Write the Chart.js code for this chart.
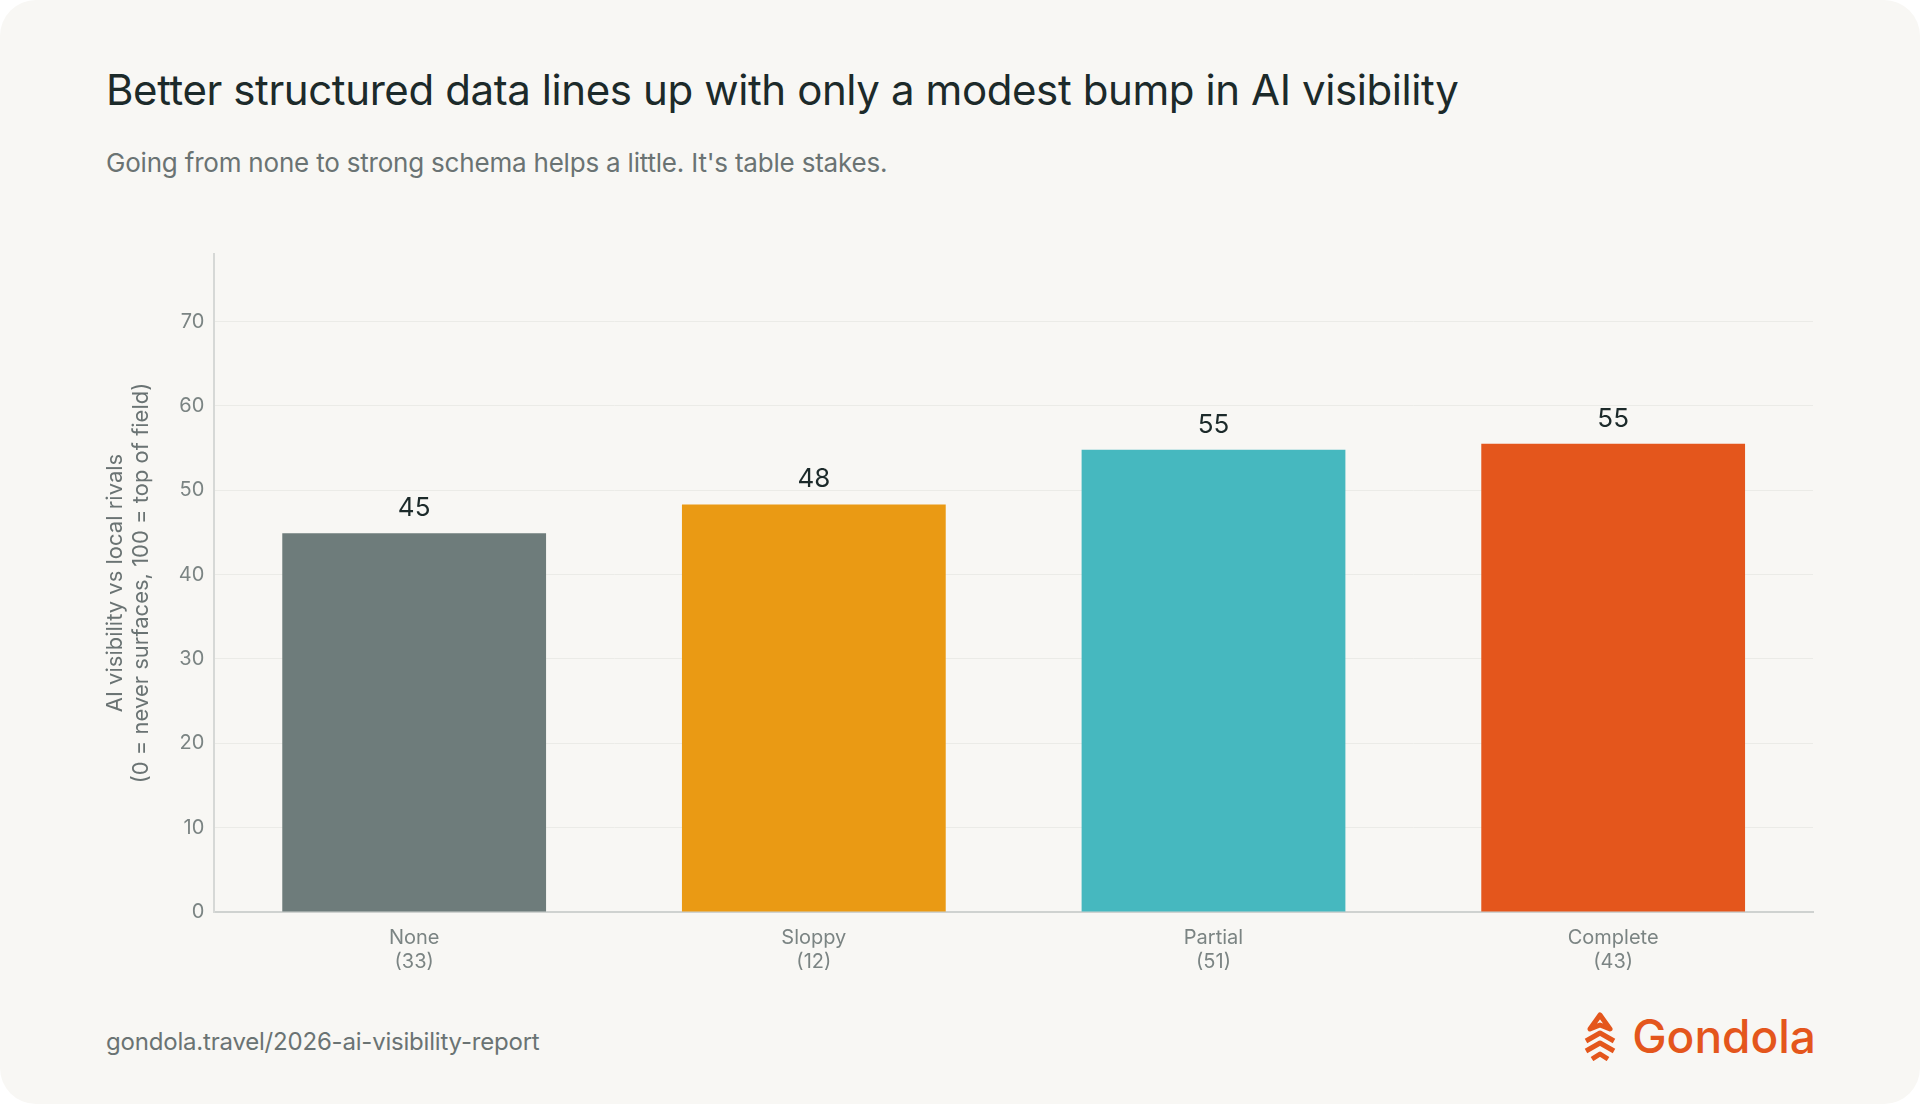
<!DOCTYPE html>
<html>
<head>
<meta charset="utf-8">
<script src="https://cdn.jsdelivr.net/npm/chart.js@4.4.1/dist/chart.umd.min.js"></script>
<style>
  html, body { margin: 0; padding: 0; background: #ffffff; width: 1920px; height: 1104px; overflow: hidden; font-family: Inter, "Noto Sans", sans-serif; }
  .card { position: absolute; left: 0; top: 0; width: 1920px; height: 1104px; background: #f8f7f4; border-radius: 36px; }
  h1 { position: absolute; left: 106px; top: 64px; margin: 0; font-size: 42px; font-weight: 400; color: #1c2a2a; letter-spacing: -0.4px; }
  .sub { position: absolute; left: 106px; top: 147px; font-size: 26px; color: #6a7373; letter-spacing: -0.2px; }
  .wrap { position: absolute; left: 98px; top: 232px; width: 1735px; height: 748px; }
  .foot { position: absolute; left: 106px; top: 1027px; font-size: 24px; color: #6a7373; letter-spacing: -0.2px; }
  .logo { position: absolute; right: 104px; top: 1008px; font-size: 46px; font-weight: 500; color: #e4561c; display: flex; align-items: center; gap: 12px; }
</style>
</head>
<body>
<div class="card"></div>
<h1>Better structured data lines up with only a modest bump in AI visibility</h1>
<div class="sub">Going from none to strong schema helps a little. It's table stakes.</div>
<div class="wrap"><canvas id="myChart"></canvas></div>
<div class="foot">gondola.travel/2026-ai-visibility-report</div>
<div class="logo">
  <svg width="40" height="50" viewBox="0 0 40 50"><g fill="none" stroke="#e4561c" stroke-width="5" stroke-linejoin="round"><path d="M20 4 L30 18 L20 14 L10 18 Z"/><path d="M6 30 L20 22 L34 30"/><path d="M6 40 L20 32 L34 40"/><path d="M12 48 L20 43 L28 48"/></g></svg>
  <span>Gondola</span>
</div>
<script>
let categories = [['None', '(33)'], ['Sloppy', '(12)'], ['Partial', '(51)'], ['Complete', '(43)']];
let values = [44.9, 48.3, 54.8, 55.5];
let valueLabels = ['45', '48', '55', '55'];
let barColors = ['#6e7c7b', '#ea9a14', '#46b8bf', '#e4561c'];

const valuePlugin = {
    id: 'valueLabels',
    afterDatasetsDraw(chart) {
        const ctx = chart.ctx;
        ctx.save();
        ctx.font = '26px Inter';
        ctx.fillStyle = '#1c2a2a';
        ctx.textAlign = 'center';
        ctx.textBaseline = 'bottom';
        chart.getDatasetMeta(0).data.forEach((bar, i) => {
            ctx.fillText(valueLabels[i], bar.x, bar.y - 12);
        });
        ctx.restore();
    }
};

new Chart("myChart", {
    type: "bar",
    data: {
        labels: categories,
        datasets: [{
            data: values,
            backgroundColor: barColors,
            barPercentage: 0.66,
            categoryPercentage: 1
        }]
    },
    plugins: [valuePlugin],
    options: {
        responsive: true,
        maintainAspectRatio: false,
        animation: false,
        layout: { padding: { right: 20 } },
        plugins: { legend: { display: false }, tooltip: { enabled: false } },
        scales: {
            x: {
                grid: { display: false },
                border: { color: '#cfd2d0', width: 2 },
                ticks: { color: '#7b8483', font: { family: 'Inter', size: 20 }, padding: 6 }
            },
            y: {
                min: 0,
                max: 78,
                ticks: { stepSize: 10, color: '#7b8483', font: { family: 'Inter', size: 20 }, padding: 10,
                         callback: v => v <= 70 ? v : '' },
                grid: { color: c => c.tick.value === 0 || c.tick.value > 70 ? 'rgba(0,0,0,0)' : '#ebebe7', drawTicks: false },
                border: { color: '#d6d8d6', width: 2 },
                title: { display: true, text: ['AI visibility vs local rivals', '(0 = never surfaces, 100 = top of field)'],
                         color: '#6a7373', font: { family: 'Inter', size: 22 }, padding: { bottom: 14 } }
            }
        }
    }
});
</script>
</body>
</html>
